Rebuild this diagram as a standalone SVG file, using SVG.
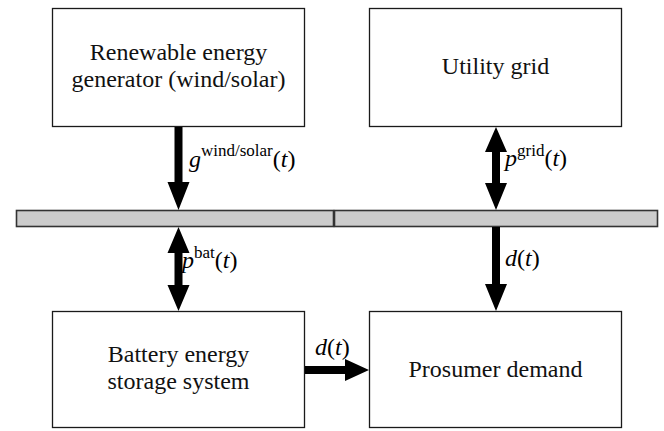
<svg xmlns="http://www.w3.org/2000/svg" width="664" height="431" viewBox="0 0 664 431">
<style>
.box{fill:#fff;stroke:#1a1a1a;stroke-width:1.3}
.bus{fill:#cccccc;stroke:#333;stroke-width:1.6}
.t{font-family:'Liberation Serif',Tinos,'Times New Roman','Nimbus Roman','DejaVu Serif',serif;font-size:24px;fill:#111;text-anchor:middle}
.m{font-family:'Liberation Serif',Tinos,'Times New Roman','Nimbus Roman','DejaVu Serif',serif;font-size:24px;fill:#000}
.i{font-style:italic}
.s{font-size:17px}
.arr{fill:#000}
</style>
<rect width="664" height="431" fill="#fff"/>
<g id="bus">
<rect class="bus" x="16.5" y="210.5" width="317" height="16"/>
<rect class="bus" x="334.5" y="210.5" width="323" height="16"/>
</g>
<g id="renewable">
<rect class="box" x="52.5" y="8.5" width="252" height="118"/>
<text class="t" x="178.5" y="60">Renewable energy</text>
<text class="t" x="178.5" y="87">generator (wind/solar)</text>
</g>
<g id="grid">
<rect class="box" x="369.5" y="8.5" width="252" height="118"/>
<text class="t" x="495.5" y="74">Utility grid</text>
</g>
<g id="battery">
<rect class="box" x="52.5" y="311.5" width="252" height="116"/>
<text class="t" x="178.5" y="362">Battery energy</text>
<text class="t" x="178.5" y="389">storage system</text>
</g>
<g id="prosumer">
<rect class="box" x="369.5" y="311.5" width="252" height="116"/>
<text class="t" x="495.5" y="377">Prosumer demand</text>
</g>
<g id="connectors">
<path class="arr" d="M174.5,127 H182.5 V182 H189.5 L178.5,210 L167.5,182 H174.5 Z"/>
<path class="arr" d="M178.5,227 L189.5,253 H182.5 V285 H189.5 L178.5,311 L167.5,285 H174.5 V253 H167.5 Z"/>
<path class="arr" d="M496,127 L507,152 H500 V183 H507 L496,210 L485,183 H492 V152 H485 Z"/>
<path class="arr" d="M492,227 H500 V284 H507 L496,311 L485,284 H492 Z"/>
<path class="arr" d="M305,366 H345 V359 L369,370 L345,381 V374 H305 Z"/>
</g>
<g id="labels">
<text class="m" x="189" y="167"><tspan class="i">g</tspan><tspan class="s" dy="-11">wind/solar</tspan><tspan dy="11">(</tspan><tspan class="i">t</tspan>)</text>
<text class="m" x="505" y="166"><tspan class="i">p</tspan><tspan class="s" dy="-10">grid</tspan><tspan dy="10">(</tspan><tspan class="i">t</tspan>)</text>
<text class="m" x="182" y="268"><tspan class="i">p</tspan><tspan class="s" dy="-10">bat</tspan><tspan dy="10">(</tspan><tspan class="i">t</tspan>)</text>
<text class="m" x="505" y="266"><tspan class="i">d</tspan>(<tspan class="i">t</tspan>)</text>
<text class="m" x="315" y="355"><tspan class="i">d</tspan>(<tspan class="i">t</tspan>)</text>
</g>
</svg>
